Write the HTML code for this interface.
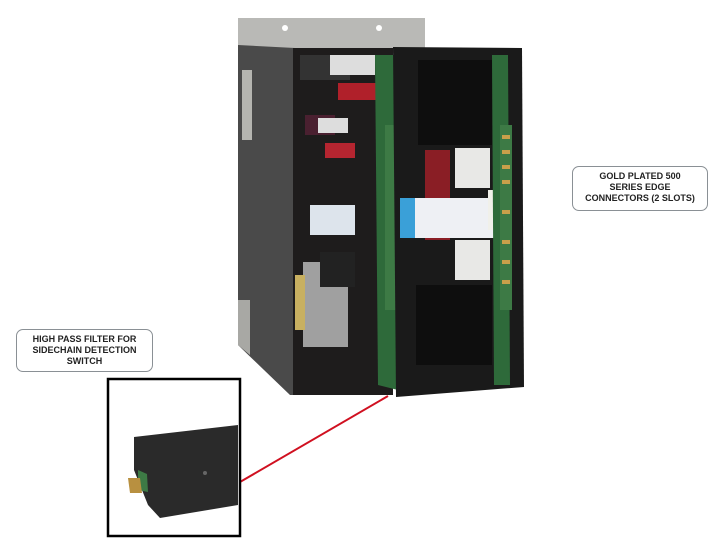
<!DOCTYPE html>
<html><head><style>
body{margin:0;width:724px;height:555px;background:#fff;position:relative;overflow:hidden;font-family:"Liberation Sans",sans-serif}
.lbl{position:absolute;border:1px solid #8a9095;border-radius:7px;background:#fff;text-align:center;font-weight:bold;font-size:9px;line-height:11px;color:#222;box-sizing:border-box;padding-top:2px}
</style></head><body>
<svg width="724" height="555" style="position:absolute;left:0;top:0">
<!-- metal plate -->
<polygon points="238,18 425,18 425,48 238,48" fill="#b9b9b6"/>
<circle cx="285" cy="28" r="3" fill="#fff"/><circle cx="379" cy="28" r="3" fill="#fff"/>
<!-- left side panel -->
<polygon points="238,45 295,48 295,395 290,395 238,345" fill="#4a4a4a"/>
<polygon points="238,300 250,300 250,355 238,345" fill="#a8a8a4"/>
<rect x="242" y="70" width="10" height="70" fill="#b5b5b0"/>
<!-- inner left -->
<rect x="293" y="48" width="100" height="347" fill="#1e1c1c"/>
<rect x="300" y="55" width="50" height="25" fill="#333"/>
<rect x="330" y="55" width="45" height="20" fill="#ddd"/>
<rect x="338" y="83" width="40" height="17" fill="#b0202a"/>
<rect x="305" y="115" width="30" height="20" fill="#4a2030"/>
<rect x="318" y="118" width="30" height="15" fill="#ddd"/>
<rect x="325" y="143" width="30" height="15" fill="#b52530"/>
<rect x="310" y="205" width="45" height="30" fill="#dde4ec"/>
<rect x="303" y="262" width="45" height="85" fill="#a0a0a0"/>
<rect x="295" y="275" width="10" height="55" fill="#c8b060"/>
<rect x="320" y="252" width="35" height="35" fill="#222"/>
<!-- left pcb -->
<polygon points="375,55 395,55 398,390 378,385" fill="#2e6a3a"/>
<rect x="385" y="125" width="12" height="185" fill="#3d7a45"/>
<!-- right box -->
<polygon points="393,47 522,48 524,387 396,397" fill="#1a1a1a"/>
<rect x="418" y="60" width="74" height="85" fill="#0e0e0e"/>
<rect x="416" y="285" width="76" height="80" fill="#0e0e0e"/>
<rect x="425" y="150" width="25" height="90" fill="#8a1e25"/>
<rect x="455" y="148" width="35" height="40" fill="#e8e8e6"/>
<rect x="455" y="240" width="35" height="40" fill="#e8e8e6"/>
<rect x="400" y="198" width="95" height="40" fill="#eef0f4"/>
<rect x="400" y="198" width="15" height="40" fill="#3aa0d8"/>
<rect x="488" y="190" width="15" height="40" fill="#f0f0ea"/>
<!-- right pcb -->
<polygon points="492,55 508,55 510,385 494,385" fill="#2e6a3a"/>
<rect x="500" y="125" width="12" height="185" fill="#3d7a45"/>
<g fill="#c9a04a"><rect x="502" y="135" width="8" height="4"/><rect x="502" y="150" width="8" height="4"/><rect x="502" y="165" width="8" height="4"/><rect x="502" y="180" width="8" height="4"/><rect x="502" y="210" width="8" height="4"/><rect x="502" y="240" width="8" height="4"/><rect x="502" y="260" width="8" height="4"/><rect x="502" y="280" width="8" height="4"/></g>
<!-- red line -->
<line x1="240" y1="482" x2="388" y2="396" stroke="#d01020" stroke-width="2"/>
<!-- inset -->
<rect x="108" y="379" width="132" height="157" fill="#fff" stroke="#000" stroke-width="2.5"/>
<polygon points="134,437 238,425 238,505 160,518 148,505 134,470" fill="#2a2a2a"/>
<polygon points="138,470 147,474 148,492 138,490" fill="#3d7a45"/>
<polygon points="128,478 140,478 142,493 130,493" fill="#b89040"/>
<circle cx="205" cy="473" r="2" fill="#666"/>
</svg>
<div class="lbl" style="left:572px;top:166px;width:136px;height:45px;padding-top:4px">GOLD PLATED 500<br>SERIES EDGE<br>CONNECTORS (2 SLOTS)</div>
<div class="lbl" style="left:16px;top:329px;width:137px;height:43px;padding-top:4px">HIGH PASS FILTER FOR<br>SIDECHAIN DETECTION<br>SWITCH</div>
</body></html>
